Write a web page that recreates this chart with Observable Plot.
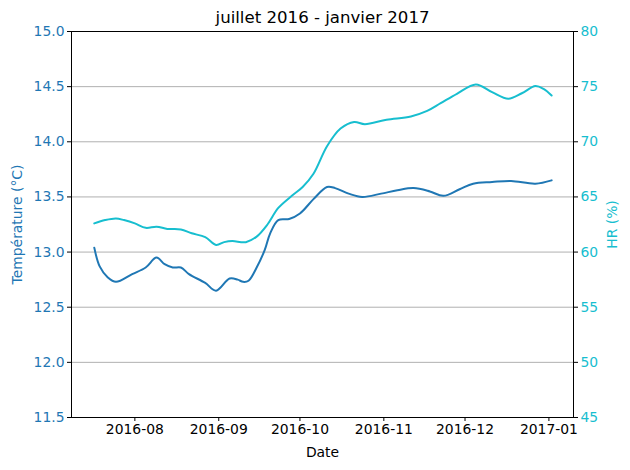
<!DOCTYPE html>
<html>
<head>
<meta charset="utf-8">
<script src="https://cdn.jsdelivr.net/npm/d3@7"></script>
<script src="https://cdn.jsdelivr.net/npm/@observablehq/plot@0.6"></script>
<style>
  html, body { margin: 0; padding: 0; background: #fff; }
</style>
</head>
<body>
<div id="chart"></div>
<script>
const title = "juillet 2016 - janvier 2017";
const xLabel = "Date";
const yLeftLabel = "Température (°C)";
const yRightLabel = "HR (%)";

const tempDates = ["2016-07-17","2016-07-19","2016-07-22","2016-07-25","2016-07-31","2016-08-05","2016-08-09","2016-08-12","2016-08-15","2016-08-18","2016-08-21","2016-08-27","2016-08-31","2016-09-05","2016-09-08","2016-09-10","2016-09-12","2016-09-15","2016-09-18","2016-09-20","2016-09-23","2016-09-27","2016-10-01","2016-10-06","2016-10-11","2016-10-14","2016-10-19","2016-10-24","2016-10-31","2016-11-06","2016-11-12","2016-11-18","2016-11-23","2016-11-29","2016-12-04","2016-12-11","2016-12-18","2016-12-27","2017-01-02"];
const tempValues = [13.04,12.87,12.77,12.73,12.80,12.86,12.95,12.89,12.86,12.86,12.80,12.72,12.65,12.76,12.75,12.73,12.74,12.86,13.02,13.17,13.29,13.30,13.35,13.48,13.59,13.58,13.53,13.50,13.53,13.56,13.58,13.55,13.51,13.57,13.62,13.635,13.645,13.62,13.65];

const hrDates = ["2016-07-17","2016-07-21","2016-07-25","2016-07-28","2016-08-01","2016-08-05","2016-08-09","2016-08-13","2016-08-18","2016-08-22","2016-08-27","2016-08-31","2016-09-03","2016-09-06","2016-09-11","2016-09-15","2016-09-19","2016-09-23","2016-09-28","2016-10-02","2016-10-06","2016-10-11","2016-10-16","2016-10-21","2016-10-25","2016-11-02","2016-11-11","2016-11-17","2016-11-22","2016-11-28","2016-12-05","2016-12-11","2016-12-17","2016-12-22","2016-12-27","2016-12-30","2017-01-02"];
const hrValues = [62.6,62.9,63.05,62.9,62.6,62.2,62.3,62.1,62.05,61.7,61.35,60.65,60.9,61.0,60.9,61.4,62.5,64.0,65.1,65.9,67.1,69.6,71.2,71.8,71.6,72.0,72.3,72.8,73.5,74.35,75.2,74.5,73.9,74.4,75.05,74.8,74.2];

const leftTicks = [11.5,12.0,12.5,13.0,13.5,14.0,14.5,15.0];
const rightTicks = [45,50,55,60,65,70,75,80];
const monthTicks = ["2016-08-01","2016-09-01","2016-10-01","2016-11-01","2016-12-01","2017-01-01"];

const tMin = 11.5, tMax = 15.0, hMin = 45, hMax = 80;
const hrToT = h => tMin + (h - hMin) * (tMax - tMin) / (hMax - hMin);

const temp = tempDates.map((d, i) => ({date: new Date(d), v: tempValues[i]}));
const hr = hrDates.map((d, i) => ({date: new Date(d), v: hrToT(hrValues[i])}));
const gridTicks = rightTicks.map(hrToT);

const FS = 13.9;
const blue = "#1f77b4", cyan = "#17becf";

const chart = Plot.plot({
  width: 630,
  height: 470,
  marginTop: 31,
  marginBottom: 53,
  marginLeft: 71,
  marginRight: 57,
  style: {fontFamily: "DejaVu Sans", fontSize: FS + "px", background: "#fff"},
  x: {type: "utc", domain: [new Date("2016-07-08T14:00Z"), new Date("2017-01-10T02:00Z")]},
  y: {domain: [tMin, tMax]},
  marks: [
    Plot.gridY(gridTicks, {stroke: "#b0b0b0", strokeOpacity: 1, strokeWidth: 1}),
    Plot.line(hr, {x: "date", y: "v", stroke: cyan, strokeWidth: 2, curve: "catmull-rom"}),
    Plot.line(temp, {x: "date", y: "v", stroke: blue, strokeWidth: 2, curve: "catmull-rom"}),
    Plot.frame({stroke: "black", strokeWidth: 1}),
    Plot.axisY(leftTicks, {anchor: "left", label: null, tickSize: 4, tickPadding: 3, tickFormat: d3.format(".1f"), fill: blue, stroke: "black", fontSize: FS}),
    Plot.axisY(gridTicks, {anchor: "right", label: null, tickSize: 4, tickPadding: 3, tickFormat: d => String(Math.round(hMin + (d - tMin) * (hMax - hMin) / (tMax - tMin))), fill: cyan, stroke: "black", fontSize: FS}),
    Plot.axisX(monthTicks.map(d => new Date(d)), {anchor: "bottom", label: null, tickSize: 4, tickPadding: 3, tickFormat: d3.utcFormat("%Y-%m"), fill: "black", fontSize: FS}),
    Plot.text([title], {text: d => d, frameAnchor: "top", lineAnchor: "bottom", dy: -8.3, fontSize: 16.6, fill: "black"}),
    Plot.text([xLabel], {text: d => d, frameAnchor: "bottom", lineAnchor: "middle", dy: 35, fontSize: FS, fill: "black"}),
    Plot.text([yLeftLabel], {text: d => d, frameAnchor: "left", textAnchor: "middle", dx: -54, rotate: -90, fontSize: FS, fill: blue}),
    Plot.text([yRightLabel], {text: d => d, frameAnchor: "right", textAnchor: "middle", dx: 39, rotate: -90, fontSize: FS, fill: cyan})
  ]
});
document.getElementById("chart").appendChild(chart);
</script>
</body>
</html>
